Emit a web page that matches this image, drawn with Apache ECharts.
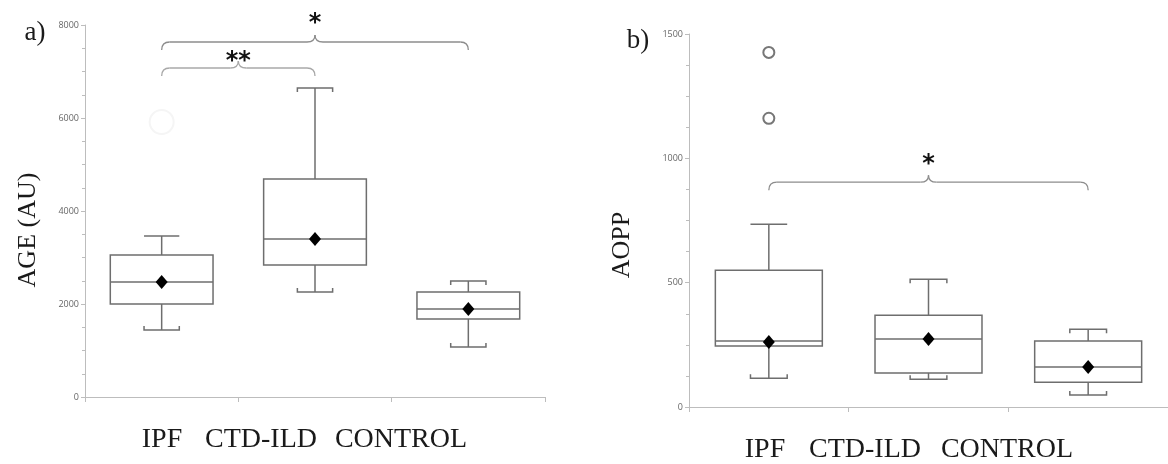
<!DOCTYPE html>
<html>
<head>
<meta charset="utf-8">
<script src="https://cdn.jsdelivr.net/npm/echarts@6/dist/echarts.min.js"></script>
<style>
  html, body { margin: 0; padding: 0; background: #fff; }
  #chart { width: 1168px; height: 464px; }
</style>
</head>
<body>
<div id="chart"></div>
<script>
// groups on the x axis
const categories = ['IPF', 'CTD-ILD', 'CONTROL'];

// panel a) AGE (AU): [low whisker, Q1, median, Q3, high whisker]
const ageBox = [
    [1441, 2000, 2473, 3054, 3462],
    [2258, 2839, 3398, 4688, 6645],
    [1075, 1677, 1892, 2258, 2495]
];
const ageMean = [2473, 3398, 1892];
const ageOutliers = [[0, 5914]];   // barely visible circle
const ageTicks = [0, 2000, 4000, 6000, 8000];

// panel b) AOPP
const aoppBox = [
    [116, 245, 265, 550, 735],
    [112, 137, 273, 369, 514],
    [48, 100, 161, 265, 313]
];
const aoppMean = [261, 273, 161];
const aoppOutliers = [[0, 1426], [0, 1161]];
const aoppTicks = [0, 500, 1000, 1500];

const chart = echarts.init(document.getElementById('chart'));

const lineCol = '#6e6e6e';
const axisCol = '#bdbdbd';

// box + whiskers drawn by hand so the caps can be narrower than the box
function renderBox(params, api) {
    const idx = api.value(0);
    const c = (v) => api.coord([idx, v]);
    const band = api.size([1, 0])[0];
    const bw = band * 0.67;
    const cw = band * 0.23;
    const lo = c(api.value(1)), q1 = c(api.value(2)), md = c(api.value(3));
    const q3 = c(api.value(4)), hi = c(api.value(5));
    const x = lo[0];
    const st = { stroke: lineCol, lineWidth: 1.5, fill: 'transparent' };
    // first group has a flat top cap in the original
    const topTick = idx === 0 ? 0 : 4;
    return {
        type: 'group',
        children: [
            { type: 'line', shape: { x1: x, y1: hi[1], x2: x, y2: q3[1] }, style: st },
            { type: 'line', shape: { x1: x, y1: q1[1], x2: x, y2: lo[1] }, style: st },
            { type: 'rect', shape: { x: x - bw / 2, y: q3[1], width: bw, height: q1[1] - q3[1] }, style: st },
            { type: 'line', shape: { x1: x - bw / 2, y1: md[1], x2: x + bw / 2, y2: md[1] }, style: st },
            { type: 'polyline', shape: { points: [[x - cw / 2, hi[1] + topTick], [x - cw / 2, hi[1]], [x + cw / 2, hi[1]], [x + cw / 2, hi[1] + topTick]] }, style: st },
            { type: 'polyline', shape: { points: [[x - cw / 2, lo[1] - 4], [x - cw / 2, lo[1]], [x + cw / 2, lo[1]], [x + cw / 2, lo[1] - 4]] }, style: st }
        ]
    };
}

function yAxis(gridIndex, ticks) {
    return {
        type: 'value',
        gridIndex: gridIndex,
        min: ticks[0],
        max: ticks[ticks.length - 1],
        interval: ticks[1] - ticks[0],
        axisLine: { show: true, lineStyle: { color: axisCol, width: 1 } },
        axisTick: { show: true, length: 4, lineStyle: { color: axisCol } },
        minorTick: { show: true, splitNumber: 4, length: 3, lineStyle: { color: axisCol } },
        splitLine: { show: false },
        axisLabel: { fontSize: 9, color: '#666', fontFamily: 'Open Sans', margin: 6, formatter: (v) => String(v) }
    };
}

function xAxis(gridIndex) {
    return {
        type: 'category',
        gridIndex: gridIndex,
        data: categories,
        axisLine: { lineStyle: { color: axisCol, width: 1 } },
        axisTick: { show: true, length: 5, lineStyle: { color: axisCol } },
        axisLabel: { show: false }
    };
}

const boxData = (arr) => arr.map((b, i) => [i].concat(b));
const meanData = (arr) => arr.map((v, i) => [i, v]);

chart.setOption({
    animation: false,
    backgroundColor: '#fff',
    grid: [
        { left: 85, top: 25, width: 460, height: 372 },
        { left: 689, top: 34, width: 486, height: 373 }
    ],
    xAxis: [xAxis(0), xAxis(1)],
    yAxis: [yAxis(0, ageTicks), yAxis(1, aoppTicks)],
    series: [
        {
            type: 'custom', xAxisIndex: 0, yAxisIndex: 0,
            renderItem: renderBox, encode: { x: 0, y: [1, 2, 3, 4, 5] },
            data: boxData(ageBox), z: 2
        },
        {
            type: 'scatter', xAxisIndex: 0, yAxisIndex: 0,
            symbol: 'diamond', symbolSize: [12, 14],
            itemStyle: { color: '#000', opacity: 1 }, data: meanData(ageMean), z: 3
        },
        {
            type: 'scatter', xAxisIndex: 0, yAxisIndex: 0,
            symbol: 'emptyCircle', symbolSize: 24,
            itemStyle: { color: '#f5f5f5', borderColor: '#f5f5f5', borderWidth: 1, opacity: 1 },
            data: ageOutliers, z: 1
        },
        {
            type: 'custom', xAxisIndex: 1, yAxisIndex: 1,
            renderItem: renderBox, encode: { x: 0, y: [1, 2, 3, 4, 5] },
            data: boxData(aoppBox), z: 2
        },
        {
            type: 'scatter', xAxisIndex: 1, yAxisIndex: 1,
            symbol: 'diamond', symbolSize: [12, 14],
            itemStyle: { color: '#000', opacity: 1 }, data: meanData(aoppMean), z: 3
        },
        {
            type: 'scatter', xAxisIndex: 1, yAxisIndex: 1,
            symbol: 'emptyCircle', symbolSize: 11,
            itemStyle: { color: '#777', borderColor: '#777', borderWidth: 1.3, opacity: 1 },
            data: aoppOutliers, z: 3
        }
    ]
});

// curly brace between two groups, built from lines and quadratic curves
function brace(grid, i0, i1, v, color) {
    const p0 = chart.convertToPixel({ gridIndex: grid }, [i0, v]);
    const p1 = chart.convertToPixel({ gridIndex: grid }, [i1, v]);
    const x0 = p0[0], x1 = p1[0], y = p0[1], xm = (x0 + x1) / 2;
    const st = { stroke: color, lineWidth: 1.3, fill: null };
    const curve = (ax, ay, bx, by, cx, cy) => ({
        type: 'bezierCurve', shape: { x1: ax, y1: ay, x2: bx, y2: by, cpx1: cx, cpy1: cy }, style: st
    });
    const parts = [
        curve(x0, y + 8, x0 + 8, y, x0, y),
        { type: 'line', shape: { x1: x0 + 8, y1: y, x2: xm - 8, y2: y }, style: st },
        curve(xm - 8, y, xm, y - 7, xm, y),
        curve(xm, y - 7, xm + 8, y, xm, y),
        { type: 'line', shape: { x1: xm + 8, y1: y, x2: x1 - 8, y2: y }, style: st },
        curve(x1 - 8, y, x1, y + 8, x1, y)
    ];
    return { parts: parts, mid: [xm, y] };
}

function star(x, y, txt) {
    return {
        type: 'text', x: x, y: y,
        style: { text: txt, font: 'bold 24px "DejaVu Sans"', fill: '#111', align: 'center', verticalAlign: 'middle' }
    };
}

function label(x, y, txt, size, rotate) {
    return {
        type: 'text', x: x, y: y, rotation: rotate || 0,
        style: { text: txt, font: size + 'px "Liberation Serif"', fill: '#1a1a1a', align: 'center', verticalAlign: 'middle' }
    };
}

const bBig = brace(0, 0, 2, 7634, '#8c8c8c');
const bSmall = brace(0, 0, 1, 7075, '#a8a8a8');
const bRight = brace(1, 0, 2, 904, '#8c8c8c');

const leftLabelX = [162, 261, 401];
const rightLabelX = [765, 865, 1007];

chart.setOption({
    graphic: [].concat(
        bBig.parts, bSmall.parts, bRight.parts,
        [
            star(bBig.mid[0], bBig.mid[1] - 18, '*'),
            star(bSmall.mid[0], bSmall.mid[1] - 6, '**'),
            star(bRight.mid[0], bRight.mid[1] - 17, '*'),
            label(35, 33, 'a)', 27),
            label(638, 41, 'b)', 27),
            label(28, 230, 'AGE (AU)', 26, Math.PI / 2),
            label(622, 245, 'AOPP', 26, Math.PI / 2)
        ],
        categories.map((c, i) => label(leftLabelX[i], 440, c, 28)),
        categories.map((c, i) => label(rightLabelX[i], 450, c, 28))
    )
});
</script>
</body>
</html>
